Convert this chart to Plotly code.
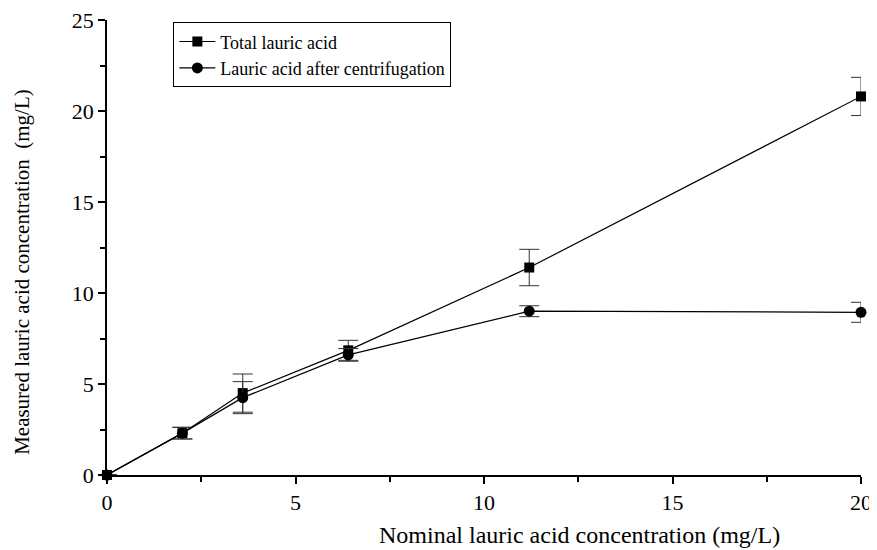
import plotly.graph_objects as go

nominal = [0, 2, 3.6, 6.4, 11.2, 20]
total = [0, 2.3, 4.5, 6.85, 11.4, 20.8]
total_err = [0, 0.32, 1.05, 0.55, 1.0, 1.05]
centrif = [0, 2.3, 4.25, 6.6, 9.0, 8.94]
centrif_err = [0, 0.32, 0.88, 0.35, 0.3, 0.55]

x_ticks = [0, 5, 10, 15, 20]
y_ticks = [0, 5, 10, 15, 20, 25]

font_family = "Liberation Serif, Times New Roman, serif"

fig = go.Figure()
fig.add_trace(go.Scatter(
    x=nominal, y=total, mode="lines+markers", name="Total lauric acid",
    line=dict(color="black", width=1.2),
    marker=dict(symbol="square", size=10, color="black"),
    error_y=dict(type="data", array=total_err, color="#333", thickness=1, width=10),
    cliponaxis=False,
))
fig.add_trace(go.Scatter(
    x=nominal, y=centrif, mode="lines+markers", name="Lauric acid after centrifugation",
    line=dict(color="black", width=1.2),
    marker=dict(symbol="circle", size=11, color="black"),
    error_y=dict(type="data", array=centrif_err, color="#333", thickness=1, width=10),
    cliponaxis=False,
))

axis_common = dict(
    showgrid=False, zeroline=False, showline=True, linecolor="black", linewidth=1.5,
    ticks="outside", ticklen=7, tickwidth=1.5, tickcolor="black",
    tickfont=dict(family=font_family, size=22, color="black"),
    ticklabeloverflow="allow",
    automargin=False,
)

fig.update_xaxes(
    range=[0, 20], tickvals=x_ticks, ticktext=[str(v) for v in x_ticks],
    minor=dict(ticks="outside", ticklen=5, tickwidth=1.5, tickcolor="black", dtick=2.5),
    **axis_common,
)
fig.update_yaxes(
    range=[0, 25], tickvals=y_ticks, ticktext=[str(v) for v in y_ticks],
    minor=dict(ticks="outside", ticklen=5, tickwidth=1.5, tickcolor="black", dtick=2.5),
    **axis_common,
)

fig.add_annotation(
    text="Nominal lauric acid concentration (mg/L)",
    xref="paper", yref="paper", x=0.627, y=-0.132, xanchor="center", yanchor="middle",
    showarrow=False, font=dict(family=font_family, size=24, color="black"),
)
fig.add_annotation(
    text="Measured lauric acid concentration  (mg/L)",
    xref="paper", yref="paper", x=-0.113, y=0.446, xanchor="center", yanchor="middle",
    textangle=-90, showarrow=False, font=dict(family=font_family, size=21, color="black"),
)

# page body has an 8px margin; compensate so the plot lands where the reference has it
fig.update_layout(
    width=869, height=542,
    margin=dict(l=99, r=16, t=12, b=75),
    plot_bgcolor="white", paper_bgcolor="white",
    font=dict(family=font_family, color="black"),
    legend=dict(
        x=0.088, y=0.995, xanchor="left", yanchor="top",
        bordercolor="black", borderwidth=1, bgcolor="white",
        font=dict(family=font_family, size=18, color="black"),
        itemwidth=36, tracegroupgap=0,
    ),
    showlegend=True,
)

fig.write_html("out.html")
